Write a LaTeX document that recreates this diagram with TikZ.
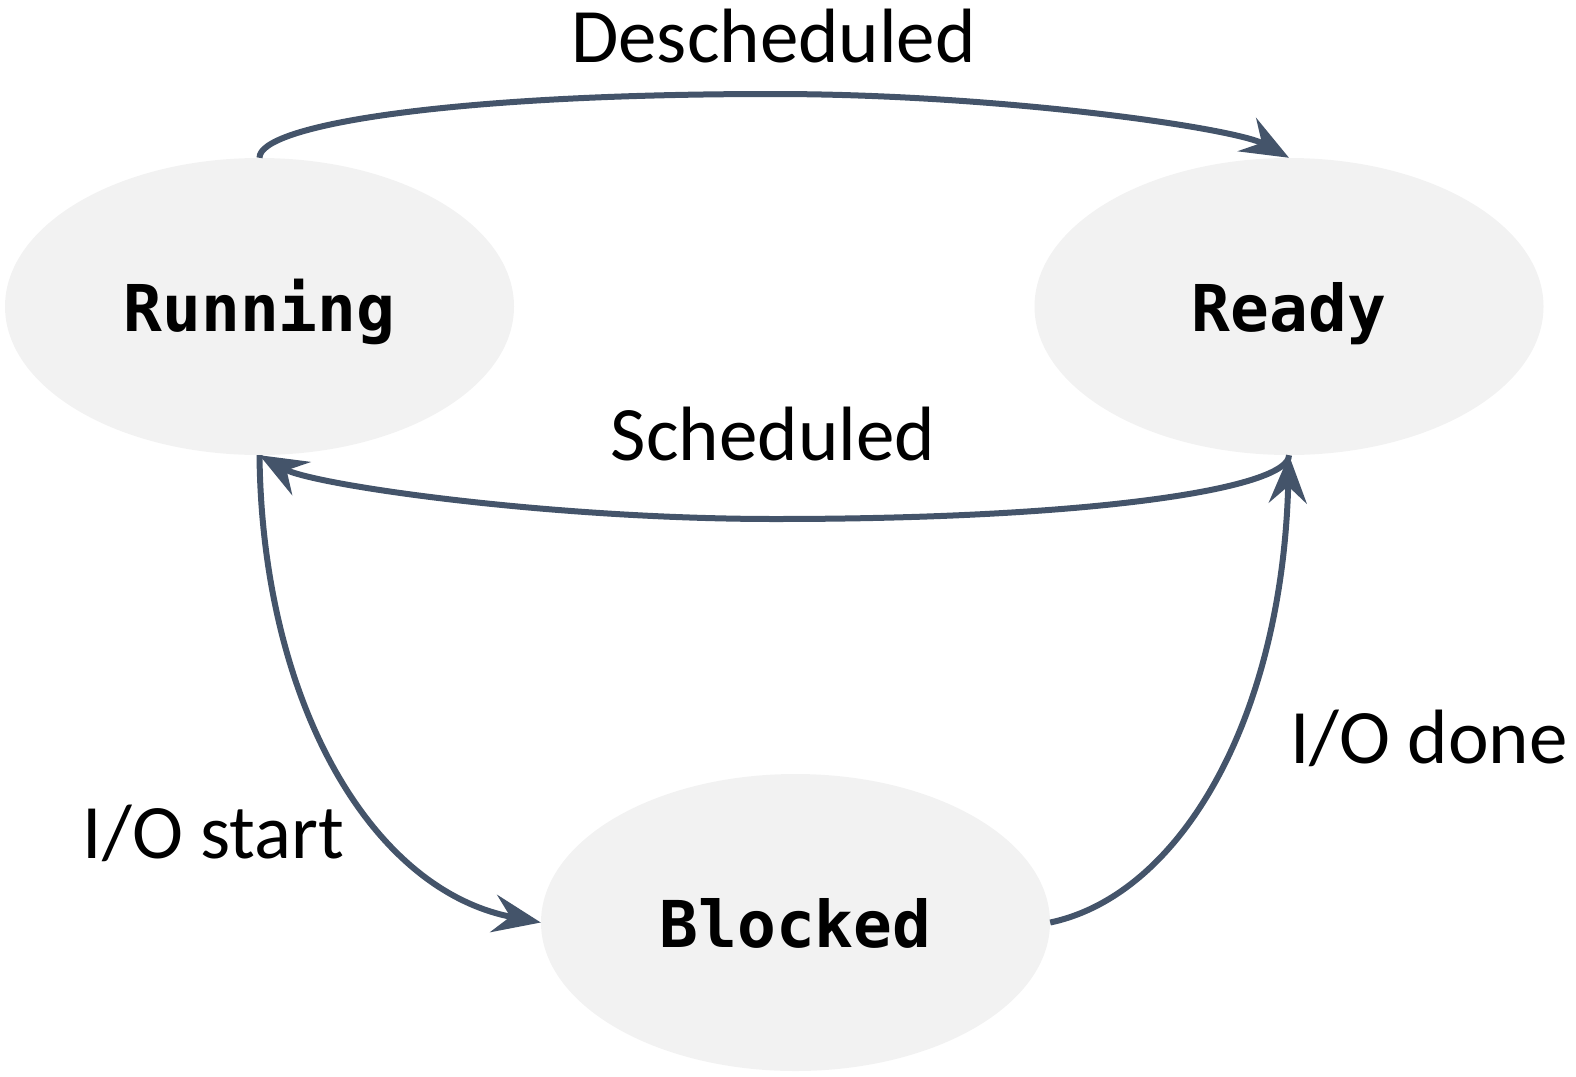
\documentclass[tikz,border=0pt]{standalone}
\usepackage{fontspec}
\setmainfont{Carlito}
\newfontfamily\statefont{DejaVu Sans Mono}
\usetikzlibrary{shapes.geometric,arrows.meta,positioning}
\definecolor{edgecol}{HTML}{44546A}
\definecolor{statefill}{HTML}{F2F2F2}

\begin{document}
\begin{tikzpicture}[x=1pt, y=-1pt,
		state/.style={ellipse, fill=statefill, minimum width=509pt, minimum height=297pt, inner sep=0pt,
			font=\statefont\bfseries\fontsize{64.5}{64.5}\selectfont, text height=50pt, text depth=0pt},
		trans/.style={draw=edgecol, line width=6pt, -{Stealth[length=48pt, width=38pt, inset=17pt]}},
		lbl/.style={anchor=base, font=\fontsize{77}{77}\selectfont}]
				\useasboundingbox (0,0) rectangle (1576,1076);
				% States
				\node[state] (running) at (259.5,306.5) {Running};
				\node[state] (ready) at (1289,306.5) {Ready};
				\node[state] (blocked) at (795.5,922.5) {Blocked};

				% Transitions
				\draw[trans] (running.north) .. controls (259,125) and (450,94) .. (773,94)
					.. controls (1000,94) and (1235,128) .. (ready.north);
				\draw[trans] (ready.south) .. controls (1289,488) and (1098,519) .. (775,519)
					.. controls (548,519) and (313,485) .. (running.south);
				\draw[trans] (running.south) .. controls (262,700) and (370,890) .. (blocked.west);
				\draw[trans] (blocked.east) .. controls (1180,895) and (1282,720) .. (ready.south);

				% Labels
				\node[lbl] (deschedLbl) at (773.5,62) {Descheduled};
				\node[lbl] (schedLbl) at (773,460) {Scheduled};
				\node[lbl] (iostartLbl) at (213.5,858) {I/O start};
				\node[lbl] (iodoneLbl) at (1429,763) {I/O done};
			\end{tikzpicture}
\end{document}
